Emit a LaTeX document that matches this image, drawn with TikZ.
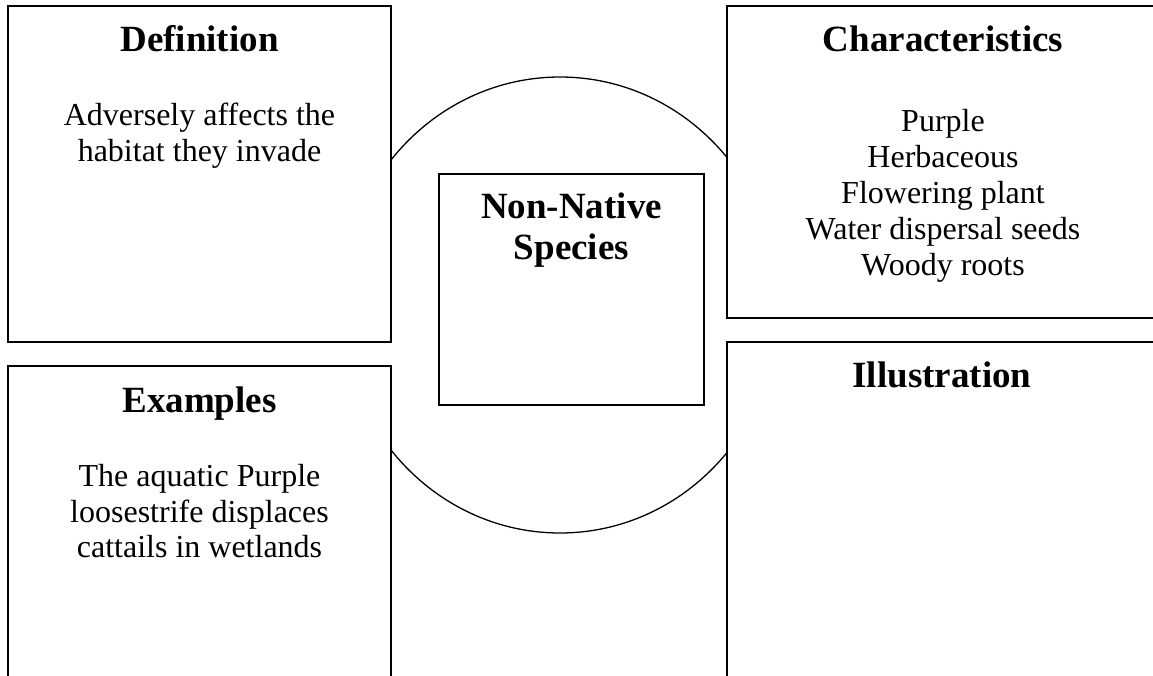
\documentclass[tikz,border=0pt]{standalone}
\usepackage{fontspec}
\setmainfont{Liberation Serif}
\begin{document}
\begin{tikzpicture}[x=1pt,y=-1pt,
  panel/.style={draw=black,line width=1.6pt,fill=white},
  heading/.style={anchor=base,inner sep=0pt,font=\fontsize{37}{42}\selectfont\bfseries},
  body/.style={anchor=base,inner sep=0pt,font=\fontsize{32}{36}\selectfont}]
\useasboundingbox (0,0) rectangle (1153,676);
\clip (0,0) rectangle (1153,676);

% central oval, only visible in the middle column
\begin{scope}
  \clip (391,0) rectangle (727,676);
  \draw[line width=1.3pt] (560,305) ellipse [x radius=219pt, y radius=228pt];
\end{scope}

% side panels
\draw[panel] (8,6) rectangle (391,342);
\draw[panel] (8,366) rectangle (391,690);
\draw[panel] (727,6) rectangle (1170,318);
\draw[panel] (727,342) rectangle (1170,690);

% centre square
\draw[panel] (439,174) rectangle (704,405);

% Definition
\node[heading] (defhead) at (199.5,52) {Definition};
\node[body] (def1) at (199.5,126) {Adversely affects the};
\node[body] (def2) at (199.5,162) {habitat they invade};

% Examples
\node[heading] (exhead) at (199.5,412) {Examples};
\node[body] (ex1) at (199.5,486) {The aquatic Purple};
\node[body] (ex2) at (199.5,522) {loosestrife displaces};
\node[body] (ex3) at (199.5,557) {cattails in wetlands};

% Characteristics
\node[heading] (charhead) at (943,52) {Characteristics};
\node[body] (char1) at (943,132) {Purple};
\node[body] (char2) at (943,168) {Herbaceous};
\node[body] (char3) at (943,204) {Flowering plant};
\node[body] (char4) at (943,240) {Water dispersal seeds};
\node[body] (char5) at (943,276) {Woody roots};

% Illustration
\node[heading] (illhead) at (942,387) {Illustration};

% centre title
\node[heading] (title1) at (571.5,219) {Non-Native};
\node[heading] (title2) at (571.5,260) {Species};
\end{tikzpicture}
\end{document}
